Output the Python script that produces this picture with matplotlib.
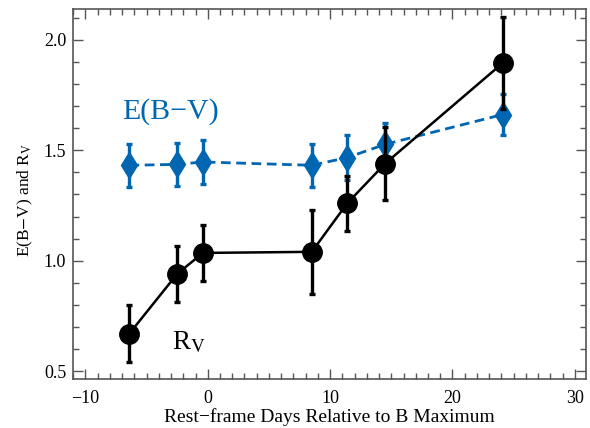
import matplotlib
matplotlib.use("Agg")
import matplotlib.pyplot as plt
from matplotlib.ticker import MultipleLocator

plt.rcParams["font.family"] = ["Liberation Serif", "DejaVu Serif"]
plt.rcParams["mathtext.fontset"] = "stix"

# Rest-frame epochs (days relative to B maximum)
dager = [-6.4, -2.5, -0.4, 8.5, 11.4, 14.5, 24.1]

# R_V with errors
rv = [0.67, 0.94, 1.035, 1.04, 1.26, 1.44, 1.895]
rv_feil = [0.13, 0.125, 0.125, 0.19, 0.125, 0.165, 0.21]

# E(B-V) with errors
ebv = [1.432, 1.436, 1.447, 1.432, 1.467, 1.527, 1.662]
ebv_feil = [0.097, 0.098, 0.1, 0.098, 0.1, 0.098, 0.094]

bla = "#0066B2"

fig = plt.figure(figsize=(5.9, 4.28), dpi=100)
ax = fig.add_axes([0.124, 0.1145, 0.869, 0.8645])

ax.errorbar(dager, ebv, yerr=ebv_feil, color=bla, marker="d", markersize=13,
            linestyle=(0, (3.5, 2)), linewidth=2.0, elinewidth=2.4,
            capsize=2.5, capthick=2.4, zorder=2)
ax.errorbar(dager, rv, yerr=rv_feil, color="black", marker="o", markersize=14,
            linestyle="-", linewidth=1.8, elinewidth=2.4,
            capsize=2.5, capthick=2.4, zorder=3)

ax.text(-6.97, 1.645, "E(B\u2212V)", color=bla, fontsize=21.5)
ax.text(-2.95, 0.6, r"R$_\mathrm{V}$", color="black", fontsize=19.5)

ax.set_xlim(-11, 30.9)
ax.set_ylim(0.464, 2.14)
ax.xaxis.set_major_locator(MultipleLocator(10))
ax.xaxis.set_minor_locator(MultipleLocator(1))
ax.yaxis.set_major_locator(MultipleLocator(0.5))
ax.yaxis.set_minor_locator(MultipleLocator(0.1))
ax.xaxis.set_major_formatter(lambda v, p: f"{v:.0f}".replace("-", "\u2212"))

ax.tick_params(which="both", direction="in", top=True, right=True,
               color="#555555", labelsize=13)
ax.tick_params(which="major", length=7, width=1)
ax.tick_params(which="minor", length=4, width=1)
ax.tick_params(axis="x", which="major", pad=8)
ax.tick_params(axis="y", which="major", pad=5)
for s in ax.spines.values():
    s.set_color("#555555")
    s.set_linewidth(1.2)

ax.set_xlabel("Rest\u2212frame Days Relative to B Maximum", fontsize=14, labelpad=1)
ax.set_ylabel(r"E(B$-$V) and R$_\mathrm{V}$", fontsize=12.5)
ax.yaxis.set_label_coords(-0.075, 0.485)

fig.savefig("out.png", dpi=100)
